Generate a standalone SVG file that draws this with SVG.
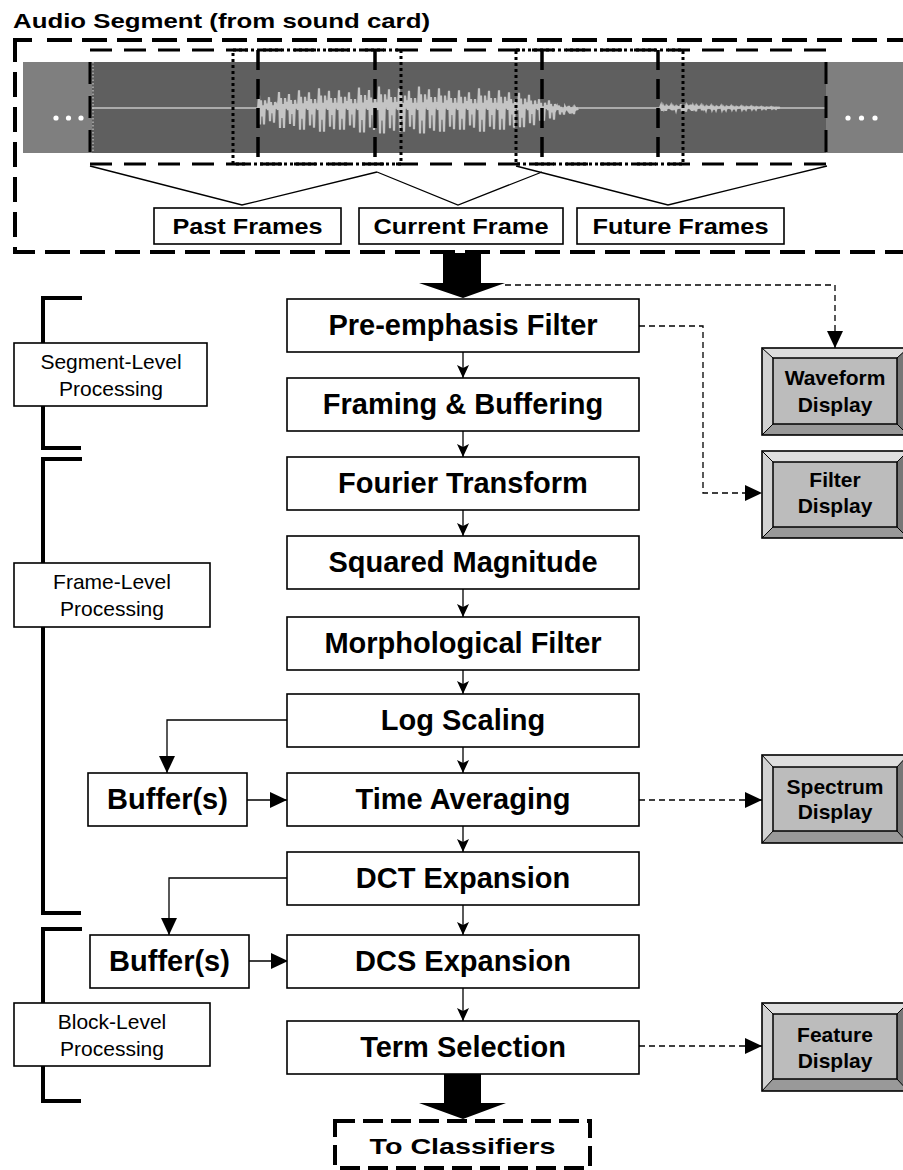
<svg xmlns="http://www.w3.org/2000/svg" width="903" height="1170" viewBox="0 0 903 1170">
<defs>
<style>
.box{fill:#fff;stroke:#000;stroke-width:1.6}
.t{font-family:"Liberation Sans",Arial,sans-serif;font-weight:bold;font-size:29px;text-anchor:middle;fill:#000}
.sm{font-size:22px}
.dt{font-size:21px}
.lbl{font-family:"Liberation Sans",Arial,sans-serif;font-size:21px;text-anchor:middle;fill:#000}
.ln{fill:none;stroke:#000;stroke-width:1.3}
.dash{fill:none;stroke:#000;stroke-width:1.3;stroke-dasharray:6 4}
.br{fill:none;stroke:#000;stroke-width:4}
.wv{fill:none;stroke:#c4c4c4;stroke-width:2.2}
.bev{stroke:#000;stroke-width:1}
</style>
<marker id="ah" markerWidth="17" markerHeight="16" refX="17" refY="8" orient="auto" markerUnits="userSpaceOnUse"><path d="M0,0 L17,8 L0,16 z" fill="#000"/></marker>
<marker id="vh" markerWidth="13" markerHeight="12" refX="13" refY="6" orient="auto" markerUnits="userSpaceOnUse"><path d="M0,0 L13,6 L0,12 L3,6 z" fill="#000"/></marker>
<path id="u" class="wv" d="M0,0 l1,-18 l1,36 l1,-30 l1,20 l1,-14 l1,24 l1,-30 l1,10 l1,-6 l1,8 l1,-16 l1,30 l1,-24 l1,14 l1,-10 l1,22 l1,-26 l1,8 l1,-4 l1,6" vector-effect="non-scaling-stroke"/>
</defs>
<rect width="903" height="1170" fill="#fff"/>

<g id="title"><text x="13" y="28" class="t" style="font-size:21px;text-anchor:start" textLength="417" lengthAdjust="spacingAndGlyphs">Audio Segment (from sound card)</text></g>

<g id="audio-segment">
<path d="M15,62 V40 H32" class="br"/>
<path d="M47,40 H903" fill="none" stroke="#000" stroke-width="4" stroke-dasharray="25 10"/>
<path d="M15,72 V252 H903" fill="none" stroke="#000" stroke-width="4" stroke-dasharray="25 10"/>
<rect x="23" y="62" width="880" height="91" fill="#7f7f7f"/>
<rect x="92" y="62" width="734" height="91" fill="#5f5f5f"/>
<line x1="93" y1="62" x2="93" y2="153" stroke="#d8d8d8" stroke-width="1" stroke-dasharray="1.5 2"/>
<line x1="92" y1="108" x2="826" y2="108" class="wv" style="stroke-width:1.6"/>
<use href="#u" transform="translate(258,110) scale(1,0.8)"/>
<use href="#u" transform="translate(278,110) scale(1,1.0)"/>
<use href="#u" transform="translate(298,110) scale(1,1.1)"/>
<use href="#u" transform="translate(318,110) scale(1,1.2)"/>
<use href="#u" transform="translate(338,110) scale(1,1.1)"/>
<use href="#u" transform="translate(358,110) scale(1,1.25)"/>
<use href="#u" transform="translate(378,110) scale(1,1.3)"/>
<use href="#u" transform="translate(398,110) scale(1,1.2)"/>
<use href="#u" transform="translate(418,110) scale(1,1.3)"/>
<use href="#u" transform="translate(438,110) scale(1,1.2)"/>
<use href="#u" transform="translate(458,110) scale(1,1.1)"/>
<use href="#u" transform="translate(478,110) scale(1,1.2)"/>
<use href="#u" transform="translate(498,110) scale(1,1.1)"/>
<use href="#u" transform="translate(518,110) scale(1,0.95)"/>
<use href="#u" transform="translate(538,110) scale(1,0.6)"/>
<use href="#u" transform="translate(558,110) scale(1,0.25)"/>
<use href="#u" transform="translate(660,108) scale(1,0.15)"/>
<use href="#u" transform="translate(680,108) scale(1,0.2)"/>
<use href="#u" transform="translate(700,108) scale(1,0.12)"/>
<use href="#u" transform="translate(720,108) scale(1,0.1)"/>
<use href="#u" transform="translate(740,108) scale(1,0.08)"/>
<use href="#u" transform="translate(760,108) scale(1,0.05)"/>
<g fill="#fff"><circle cx="56" cy="118" r="2.6"/><circle cx="68.5" cy="118" r="2.6"/><circle cx="81" cy="118" r="2.6"/><circle cx="848" cy="118" r="2.6"/><circle cx="861.5" cy="118" r="2.6"/><circle cx="875" cy="118" r="2.6"/></g>
<rect x="90" y="50" width="736" height="114" fill="none" stroke="#000" stroke-width="3" stroke-dasharray="22 12"/>
<g stroke="#000" stroke-width="3.5" stroke-dasharray="20 9">
<line x1="258" y1="50" x2="258" y2="164"/><line x1="375" y1="50" x2="375" y2="164"/>
<line x1="542" y1="50" x2="542" y2="164"/><line x1="658" y1="50" x2="658" y2="164"/>
</g>
<rect x="233" y="50" width="168" height="114" fill="none" stroke="#000" stroke-width="3" stroke-dasharray="3 3"/>
<rect x="516" y="50" width="167" height="114" fill="none" stroke="#000" stroke-width="3" stroke-dasharray="3 3"/>
</g>

<g id="frame-links">
<polyline class="ln" points="90,166 242,205 377,172"/>
<polyline class="ln" points="377,172 458,205 542,172"/>
<polyline class="ln" points="516,166 668,205 827,166"/>
</g>

<g id="past-frames"><rect x="154" y="208" width="187" height="36" class="box"/><text x="247.5" y="234" class="t sm" textLength="150" lengthAdjust="spacingAndGlyphs">Past Frames</text></g>
<g id="current-frame"><rect x="359" y="208" width="204" height="36" class="box"/><text x="461" y="234" class="t sm" textLength="175" lengthAdjust="spacingAndGlyphs">Current Frame</text></g>
<g id="future-frames"><rect x="577" y="208" width="207" height="36" class="box"/><text x="680.5" y="234" class="t sm" textLength="176" lengthAdjust="spacingAndGlyphs">Future Frames</text></g>

<g id="brackets">
<path class="br" d="M82,298 H43 V448 H81"/>
<path class="br" d="M82,459 H43 V913 H81"/>
<path class="br" d="M82,929 H43 V1101 H81"/>
</g>
<g id="segment-level"><rect x="14" y="343" width="193" height="63" class="box"/><text class="lbl" x="111" y="369">Segment-Level</text><text class="lbl" x="111" y="396">Processing</text></g>
<g id="frame-level"><rect x="14" y="563" width="196" height="64" class="box"/><text class="lbl" x="112" y="589">Frame-Level</text><text class="lbl" x="112" y="616">Processing</text></g>
<g id="block-level"><rect x="14" y="1003" width="196" height="63" class="box"/><text class="lbl" x="112" y="1029">Block-Level</text><text class="lbl" x="112" y="1056">Processing</text></g>

<g id="connectors">
<path d="M443,253 H481 V283 H505 L463,298 L419,283 H443 Z" fill="#000"/>
<path d="M444,1074 H481 V1103 H506 L463,1119 L419,1103 H444 Z" fill="#000"/>
<g class="ln" marker-end="url(#vh)">
<line x1="463" y1="352" x2="463" y2="378"/>
<line x1="463" y1="431" x2="463" y2="457"/>
<line x1="463" y1="510" x2="463" y2="536"/>
<line x1="463" y1="589" x2="463" y2="617"/>
<line x1="463" y1="670" x2="463" y2="694"/>
<line x1="463" y1="747" x2="463" y2="773"/>
<line x1="463" y1="826" x2="463" y2="852"/>
<line x1="463" y1="905" x2="463" y2="935"/>
<line x1="463" y1="988" x2="463" y2="1021"/>
</g>
<g class="ln" marker-end="url(#ah)">
<path d="M287,720 H167 V773"/>
<path d="M247,800 H287"/>
<path d="M287,878 H169 V935"/>
<path d="M249,961 H288"/>
</g>
<g class="dash" marker-end="url(#ah)">
<path d="M505,285 H835 V348"/>
<path d="M639,326 H703 V493 H762"/>
<path d="M639,800 H762"/>
<path d="M639,1046 H762"/>
</g>
</g>

<g id="pre-emphasis"><rect x="287" y="299" width="352" height="53" class="box"/><text x="463" y="335" class="t">Pre-emphasis Filter</text></g>
<g id="framing"><rect x="287" y="378" width="352" height="53" class="box"/><text x="463" y="414" class="t">Framing &amp; Buffering</text></g>
<g id="fourier"><rect x="287" y="457" width="352" height="53" class="box"/><text x="463" y="493" class="t">Fourier Transform</text></g>
<g id="squared"><rect x="287" y="536" width="352" height="53" class="box"/><text x="463" y="572" class="t">Squared Magnitude</text></g>
<g id="morph"><rect x="287" y="617" width="352" height="53" class="box"/><text x="463" y="653" class="t">Morphological Filter</text></g>
<g id="log"><rect x="287" y="694" width="352" height="53" class="box"/><text x="463" y="730" class="t">Log Scaling</text></g>
<g id="time-avg"><rect x="287" y="773" width="352" height="53" class="box"/><text x="463" y="809" class="t">Time Averaging</text></g>
<g id="dct"><rect x="287" y="852" width="352" height="53" class="box"/><text x="463" y="888" class="t">DCT Expansion</text></g>
<g id="dcs"><rect x="287" y="935" width="352" height="53" class="box"/><text x="463" y="971" class="t">DCS Expansion</text></g>
<g id="term"><rect x="287" y="1021" width="352" height="53" class="box"/><text x="463" y="1057" class="t">Term Selection</text></g>

<g id="buffer1"><rect x="88" y="773" width="159" height="53" class="box"/><text x="167.5" y="809" class="t">Buffer(s)</text></g>
<g id="buffer2"><rect x="90" y="935" width="159" height="53" class="box"/><text x="169.5" y="971" class="t">Buffer(s)</text></g>

<g id="to-classifiers"><rect x="335" y="1121" width="255" height="47" fill="#fff" stroke="#000" stroke-width="4" stroke-dasharray="20 8"/><text x="462.5" y="1154" class="t sm" textLength="186" lengthAdjust="spacingAndGlyphs">To Classifiers</text></g>

<g id="waveform-display">
<rect x="762" y="348" width="146" height="87" fill="#c0c0c0"/>
<polygon points="762,348 908,348 897,358 773,358" fill="#dedede"/>
<polygon points="762,348 773,358 773,424 762,435" fill="#d2d2d2"/>
<polygon points="762,435 773,424 897,424 908,435" fill="#999"/>
<polygon points="908,348 897,358 897,424 908,435" fill="#777"/>
<path class="bev" d="M762,348 L773,358 M762,435 L773,424 M908,348 L897,358 M908,435 L897,424"/>
<rect x="773" y="358" width="124" height="66" fill="#bcbcbc" stroke="#000" stroke-width="1.5"/>
<rect x="762" y="348" width="146" height="87" fill="none" stroke="#000" stroke-width="1.6"/>
<text x="835" y="385" class="t dt">Waveform</text><text x="835" y="412" class="t dt">Display</text>
</g>
<g id="filter-display">
<rect x="762" y="451" width="146" height="87" fill="#c0c0c0"/>
<polygon points="762,451 908,451 897,462 773,462" fill="#dedede"/>
<polygon points="762,451 773,462 773,527 762,538" fill="#d2d2d2"/>
<polygon points="762,538 773,527 897,527 908,538" fill="#999"/>
<polygon points="908,451 897,462 897,527 908,538" fill="#777"/>
<path class="bev" d="M762,451 L773,462 M762,538 L773,527 M908,451 L897,462 M908,538 L897,527"/>
<rect x="773" y="462" width="124" height="65" fill="#bcbcbc" stroke="#000" stroke-width="1.5"/>
<rect x="762" y="451" width="146" height="87" fill="none" stroke="#000" stroke-width="1.6"/>
<text x="835" y="487" class="t dt">Filter</text><text x="835" y="513" class="t dt">Display</text>
</g>
<g id="spectrum-display">
<rect x="762" y="755" width="146" height="88" fill="#c0c0c0"/>
<polygon points="762,755 908,755 897,767 773,767" fill="#dedede"/>
<polygon points="762,755 773,767 773,831 762,843" fill="#d2d2d2"/>
<polygon points="762,843 773,831 897,831 908,843" fill="#999"/>
<polygon points="908,755 897,767 897,831 908,843" fill="#777"/>
<path class="bev" d="M762,755 L773,767 M762,843 L773,831 M908,755 L897,767 M908,843 L897,831"/>
<rect x="773" y="767" width="124" height="64" fill="#bcbcbc" stroke="#000" stroke-width="1.5"/>
<rect x="762" y="755" width="146" height="88" fill="none" stroke="#000" stroke-width="1.6"/>
<text x="835" y="794" class="t dt">Spectrum</text><text x="835" y="819" class="t dt">Display</text>
</g>
<g id="feature-display">
<rect x="762" y="1003" width="146" height="88" fill="#c0c0c0"/>
<polygon points="762,1003 908,1003 897,1014 773,1014" fill="#dedede"/>
<polygon points="762,1003 773,1014 773,1079 762,1091" fill="#d2d2d2"/>
<polygon points="762,1091 773,1079 897,1079 908,1091" fill="#999"/>
<polygon points="908,1003 897,1014 897,1079 908,1091" fill="#777"/>
<path class="bev" d="M762,1003 L773,1014 M762,1091 L773,1079 M908,1003 L897,1014 M908,1091 L897,1079"/>
<rect x="773" y="1014" width="124" height="65" fill="#bcbcbc" stroke="#000" stroke-width="1.5"/>
<rect x="762" y="1003" width="146" height="88" fill="none" stroke="#000" stroke-width="1.6"/>
<text x="835" y="1042" class="t dt">Feature</text><text x="835" y="1068" class="t dt">Display</text>
</g>
</svg>
